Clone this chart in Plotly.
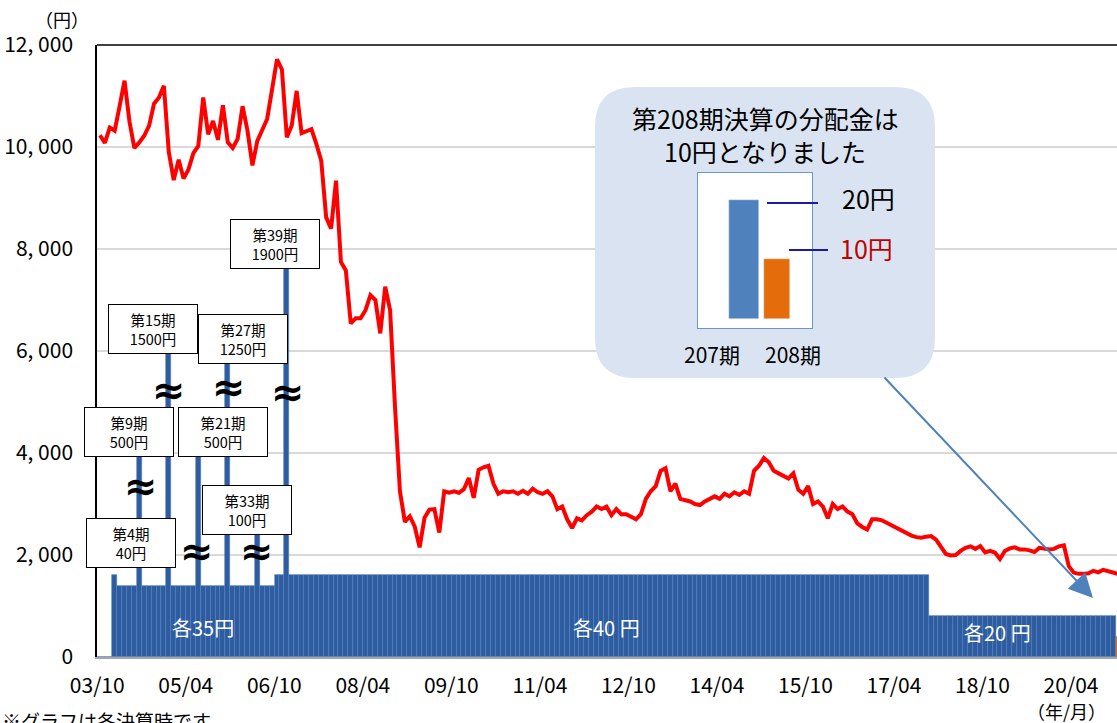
import plotly.graph_objects as go

# ---------------- data ----------------
periods = list(range(1, 209))

nav = [
    10230, 10080, 10380, 10320, 10800, 11300, 10500, 9980, 10090, 10220,
    10420, 10850, 10970, 11200, 9900, 9350, 9750, 9380, 9560, 9880,
    10020, 10970, 10250, 10510, 10140, 10820, 10090, 9980, 10160, 10800,
    10320, 9640, 10120, 10350, 10550, 11130, 11720, 11520, 10190, 10420,
    11100, 10270, 10300, 10350, 10060, 9730, 8620, 8400, 9340, 7745,
    7580, 6540, 6640, 6640, 6800, 7095, 7000, 6345, 7260, 6800,
    4900, 3250, 2650, 2760, 2560, 2150, 2730, 2890, 2900, 2440,
    3250, 3220, 3250, 3220, 3290, 3510, 3120, 3670, 3720, 3750,
    3400, 3200, 3250, 3230, 3250, 3200, 3260, 3200, 3300, 3230,
    3200, 3250, 3150, 2900, 2950, 2700, 2530, 2720, 2680, 2780,
    2850, 2950, 2900, 2950, 2780, 2900, 2800, 2800, 2750, 2700,
    2800, 3100, 3250, 3350, 3650, 3700, 3250, 3400, 3100, 3080,
    3050, 3000, 2980, 3050, 3100, 3150, 3100, 3200, 3150, 3230,
    3180, 3250, 3200, 3650, 3750, 3900, 3820, 3650, 3600, 3560,
    3500, 3600, 3280, 3200, 3350, 3000, 3050, 2950, 2720, 3000,
    2900, 2950, 2850, 2800, 2620, 2550, 2500, 2700, 2700, 2680,
    2630, 2560, 2510, 2480, 2430, 2380, 2350, 2340, 2360, 2370,
    2300, 2175, 2020, 1990, 2000, 2080, 2140, 2170, 2120, 2175,
    2050, 2080, 2045, 1920, 2080, 2130, 2150, 2110, 2110, 2090,
    2060, 2140, 2120, 2110, 2120, 2170, 2190, 1780, 1655, 1630,
    1630, 1640, 1690, 1660, 1710, 1690, 1670, 1630,
]

# distribution bars as drawn (height, number of consecutive periods)
bar_segments = [
    (0, 3), (1600, 1), (1400, 4), (4000, 1), (1400, 5), (6000, 1),
    (1400, 5), (4000, 1), (1400, 5), (6000, 1), (1400, 5), (2600, 1),
    (1400, 3), (1600, 2), (7700, 1), (1600, 130), (800, 38), (400, 1),
]
bar_height = []
for h, n in bar_segments:
    bar_height += [h] * n
bar_colors = ["#2E5C9E"] * 207 + ["#E46C0A"]

tick_labels = ["03/10", "05/04", "06/10", "08/04", "09/10", "11/04",
               "12/10", "14/04", "15/10", "17/04", "18/10", "20/04"]
tick_pos = [0.45 + 18 * i for i in range(len(tick_labels))]

y_ticks = [0, 2000, 4000, 6000, 8000, 10000, 12000]
y_tick_text = ["0", "2, 000", "4, 000", "6, 000", "8, 000", "10, 000", "12, 000"]

special_labels = ["第4期<br>40円", "第9期<br>500円", "第15期<br>1500円", "第21期<br>500円",
                  "第27期<br>1250円", "第33期<br>100円", "第39期<br>1900円"]

mini_periods = ["207期", "208期"]
mini_values = [20, 10]
mini_texts = ["20円", "10円"]

# ---------------- helpers (pixel -> coords) ----------------
L, R, T, B = 97, 1117, 45, 657
X0, X1 = 0.4, 207.8
def PX(px): return (px - L) / (R - L)
def PY(py): return (B - py) / (B - T)
def DX(px): return X0 + (px - L) * (X1 - X0) / (R - L)
def DY(py): return (B - py) * 12000 / (B - T)

def rr_path(x0, y0, x1, y1, r):
    pts = [("M", [(x0 + r, y0)]), ("L", [(x1 - r, y0)]), ("Q", [(x1, y0), (x1, y0 + r)]),
           ("L", [(x1, y1 - r)]), ("Q", [(x1, y1), (x1 - r, y1)]), ("L", [(x0 + r, y1)]),
           ("Q", [(x0, y1), (x0, y1 - r)]), ("L", [(x0, y0 + r)]), ("Q", [(x0, y0), (x0 + r, y0)])]
    s = ""
    for cmd, ps in pts:
        s += cmd + " " + " ".join(f"{DX(a):.4f},{DY(b):.4f}" for a, b in ps) + " "
    return s + "Z"

JP = "Noto Sans CJK JP"

fig = go.Figure()
fig.add_trace(go.Bar(x=periods, y=bar_height, marker=dict(color=bar_colors,
                     line=dict(color="#4D7CC0", width=0.6)), hoverinfo="skip", showlegend=False))
fig.add_trace(go.Scatter(x=periods, y=nav, mode="lines", line=dict(color="#FF0000", width=4),
                         showlegend=False))
fig.add_trace(go.Bar(x=[0, 1], y=mini_values, xaxis="x2", yaxis="y2", width=[0.9, 0.79],
                     marker=dict(color=["#4F81BD", "#E46C0A"]), showlegend=False))

shapes = []
# callout (between grid and traces)
shapes.append(dict(type="path", xref="x", yref="y", layer="between",
                   path=rr_path(595, 87, 935, 378, 40), fillcolor="#DAE3F1",
                   line=dict(width=0)))
shapes.append(dict(type="rect", xref="x", yref="y", layer="between",
                   x0=DX(698), x1=DX(812), y0=DY(328), y1=DY(173), fillcolor="white",
                   line=dict(color="#6C95CC", width=2)))
# top border
shapes.append(dict(type="line", xref="paper", yref="paper", x0=0, x1=1, y0=1, y1=1,
                   line=dict(color="black", width=1.5)))
# leader lines in callout
shapes.append(dict(type="line", xref="paper", yref="paper", x0=PX(767), x1=PX(818),
                   y0=PY(203), y1=PY(203), line=dict(color="#1A1AA6", width=2)))
shapes.append(dict(type="line", xref="paper", yref="paper", x0=PX(789), x1=PX(828),
                   y0=PY(250), y1=PY(250), line=dict(color="#1A1AA6", width=2)))

ann = []
def A(text, px, py, size, color="black", xanchor="center", yanchor="middle", family=JP, **kw):
    ann.append(dict(text=text, x=PX(px), y=PY(py), xref="paper", yref="paper", showarrow=False,
                    xanchor=xanchor, yanchor=yanchor, font=dict(size=size, color=color, family=family), **kw))

A("（円）", 62, 19, 18)
A("※グラフは各決算時です", 0, 720, 19, xanchor="left")
A("（年/月）", 1066, 711, 18)

# special distribution labels
box_pos = [(130.5, 543), (128.5, 432), (152.5, 329), (222.5, 432), (242.5, 338.5), (247, 510), (275, 244.5)]
for t, (cx, cy) in zip(special_labels, box_pos):
    A(t, cx, cy, 14.5, width=88, height=48, bgcolor="white", bordercolor="black", borderwidth=1, borderpad=0)

# break marks
for cx, cy in [(141, 486), (169, 390), (197, 551), (229, 387), (257, 551), (288, 392)]:
    A("<b>≈</b>", cx, cy, 40, family="DejaVu Sans")

# bar texts
A("各35円", 203, 627, 20, color="white")
A("各40 円", 606, 627, 20, color="white")
A("各20 円", 997, 632, 20, color="white")

# callout texts
A("第208期決算の分配金は", 765, 118, 25)
A("10円となりました", 765, 151, 25)
A(mini_texts[0], 840, 198, 25, xanchor="left")
A(mini_texts[1], 838, 248, 25, color="#C00000", xanchor="left")
A(mini_periods[0], 712, 354, 21)
A(mini_periods[1], 793, 354, 21)

# arrow
ann.append(dict(text="", x=PX(1093), y=PY(598), xref="paper", yref="paper", showarrow=True,
                ax=883 - 1093, ay=376 - 598, arrowcolor="#4F81BD", arrowwidth=2,
                arrowhead=2, arrowsize=2.4, standoff=0))

fig.update_layout(
    width=1117, height=723, margin=dict(l=L, r=1117 - R, t=T, b=723 - B),
    paper_bgcolor="white", plot_bgcolor="white", bargap=0, showlegend=False,
    shapes=shapes, annotations=ann,
    xaxis=dict(range=[X0, X1], tickvals=tick_pos, ticktext=tick_labels, showgrid=False,
               zeroline=False, showline=True, linecolor="#A6A6A6", linewidth=2, ticks="",
               tickfont=dict(family=JP, size=21, color="black"), ticklabelstandoff=9),
    yaxis=dict(range=[0, 12000], tickvals=y_ticks, ticktext=y_tick_text, showgrid=True,
               gridcolor="#D9D9D9", gridwidth=1.5, zeroline=False, showline=True,
               linecolor="black", linewidth=1.5, ticks="",
               tickfont=dict(family=JP, size=21, color="black"), ticklabelstandoff=18),
    xaxis2=dict(domain=[PX(698), PX(812)], range=[-1.394, 2.06], visible=False, anchor="y2"),
    yaxis2=dict(domain=[PY(328), PY(173)], range=[-1.51, 24.5], visible=False, anchor="x2"),
)

fig.write_html("out.html", config={"displayModeBar": False},
               post_script="document.body.style.margin='0';document.body.style.overflow='hidden';")
